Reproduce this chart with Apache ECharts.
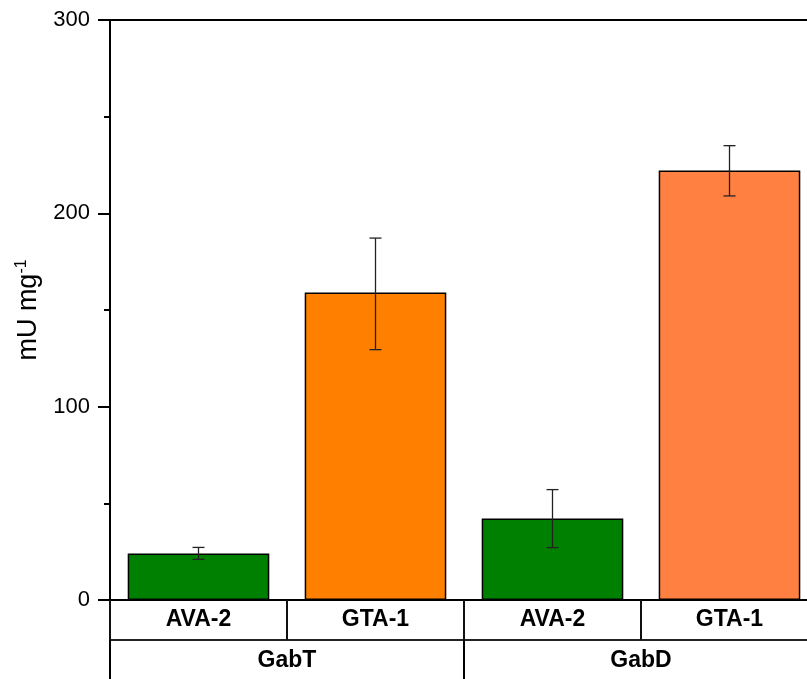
<!DOCTYPE html>
<html>
<head>
<meta charset="utf-8">
<script src="https://cdn.jsdelivr.net/npm/echarts@6/dist/echarts.min.js"></script>
<style>
html,body{margin:0;padding:0;background:#fff;}
#main{width:807px;height:679px;}
</style>
</head>
<body>
<div id="main"></div>
<script>
// data
var strains = ['AVA-2', 'GTA-1', 'AVA-2', 'GTA-1'];
var enzymes = ['GabT', 'GabD'];
var activity = [24.1, 159.1, 42.1, 222.1];
var errLow = [21.0, 129.5, 27.1, 209.0];
var errHigh = [27.2, 187.2, 57.1, 235.0];
var barColors = ['#008000', '#ff8000', '#008000', '#ff8040'];

var font = 'Liberation Sans, Arial, sans-serif';

var barData = activity.map(function (v, i) {
    return { value: v, itemStyle: { color: barColors[i] } };
});
var errData = activity.map(function (v, i) {
    return [i, errLow[i], errHigh[i]];
});

var myChart = echarts.init(document.getElementById('main'));
var option = {
    animation: false,
    grid: {
        left: 110,
        top: 20,
        width: 708,
        height: 580,
        outerBoundsMode: 'none'
    },
    xAxis: [
        {
            type: 'category',
            data: strains,
            position: 'bottom',
            axisLine: { lineStyle: { color: '#000', width: 2 } },
            axisTick: { show: true, length: 40, interval: 0, lineStyle: { color: '#111', width: 2 } },
            axisLabel: {
                margin: 20, verticalAlign: 'middle', interval: 0,
                color: '#000', fontFamily: font, fontSize: 23, fontWeight: 'bold'
            },
            splitLine: { show: false }
        },
        {
            type: 'category',
            data: enzymes,
            position: 'bottom',
            offset: 40,
            axisLine: { lineStyle: { color: '#222', width: 2 } },
            axisTick: { show: true, length: 40, interval: 0, lineStyle: { color: '#000', width: 2 } },
            axisLabel: {
                margin: 21, verticalAlign: 'middle', interval: 0,
                color: '#000', fontFamily: font, fontSize: 23, fontWeight: 'bold'
            },
            splitLine: { show: false }
        },
        {
            type: 'category',
            data: strains,
            position: 'top',
            axisLine: { lineStyle: { color: '#000', width: 2 } },
            axisTick: { show: false },
            axisLabel: { show: false },
            splitLine: { show: false }
        }
    ],
    yAxis: {
        type: 'value',
        min: 0,
        max: 300,
        interval: 100,
        name: '{a|mU mg}{s|-1}',
        nameLocation: 'middle',
        nameGap: 62,
        nameRotate: 90,
        nameTextStyle: {
            fontFamily: font,
            fontSize: 27,
            color: '#000',
            rich: {
                a: { fontFamily: font, fontSize: 27, color: '#000' },
                s: { fontFamily: font, fontSize: 16, color: '#000', verticalAlign: 'top', padding: [0, 0, 14, 0] }
            }
        },
        axisLine: { show: true, lineStyle: { color: '#000', width: 2 } },
        axisTick: { show: true, inside: false, length: 12, lineStyle: { color: '#000', width: 2 } },
        minorTick: { show: true, splitNumber: 2, length: 6, lineStyle: { color: '#000', width: 2 } },
        axisLabel: { margin: 20, color: '#000', fontFamily: font, fontSize: 22 },
        splitLine: { show: false }
    },
    series: [
        {
            type: 'bar',
            xAxisIndex: 0,
            barWidth: '80%',
            data: barData,
            itemStyle: { borderColor: '#000', borderWidth: 1.5 }
        },
        {
            type: 'custom',
            xAxisIndex: 0,
            data: errData,
            z: 10,
            renderItem: function (params, api) {
                var lo = api.coord([api.value(0), api.value(1)]);
                var hi = api.coord([api.value(0), api.value(2)]);
                var x = lo[0];
                var cap = 6;
                var st = { stroke: '#222', lineWidth: 1.3 };
                return {
                    type: 'group',
                    children: [
                        { type: 'line', shape: { x1: x, y1: lo[1], x2: x, y2: hi[1] }, style: st },
                        { type: 'line', shape: { x1: x - cap, y1: lo[1], x2: x + cap, y2: lo[1] }, style: st },
                        { type: 'line', shape: { x1: x - cap, y1: hi[1], x2: x + cap, y2: hi[1] }, style: st }
                    ]
                };
            }
        }
    ]
};
myChart.setOption(option);
</script>
</body>
</html>
